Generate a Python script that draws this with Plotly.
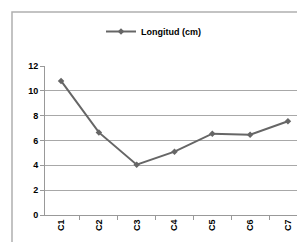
import plotly.graph_objects as go

categories = ["C1", "C2", "C3", "C4", "C5", "C6", "C7"]
longitud = [10.8, 6.65, 4.05, 5.1, 6.55, 6.47, 7.55]
y_ticks = [0, 2, 4, 6, 8, 10, 12]

W, H = 305, 242
ml, mr, mt, mb = 37, 9, 58, 35
pw, ph = W - ml - mr, H - mt - mb

def px(x):
    return (x - ml) / pw

def py(y):
    return (H - mb - y) / ph

fig = go.Figure()
fig.add_trace(go.Scatter(
    x=categories, y=longitud, mode="lines+markers", name="Longitud (cm)",
    line=dict(color="#666666", width=2),
    marker=dict(symbol="diamond", size=5, color="#666666"),
))

fig.add_shape(type="rect", xref="paper", yref="paper",
              x0=px(4), x1=px(315), y0=py(255), y1=py(4),
              line=dict(color="#b0b0b0", width=1.5), fillcolor="rgba(0,0,0,0)", layer="below")

fig.update_layout(
    width=W, height=H,
    margin=dict(l=ml, r=mr, t=mt, b=mb, pad=0),
    paper_bgcolor="white", plot_bgcolor="white",
    font=dict(family="Liberation Sans, Arial, sans-serif", size=9, color="#000000"),
    showlegend=True,
    legend=dict(orientation="h", x=px(93), y=py(23.5), xanchor="left", yanchor="middle",
                font=dict(size=9, family="Liberation Sans, Arial, sans-serif", weight="bold"),
                bgcolor="rgba(0,0,0,0)", itemwidth=30),
    xaxis=dict(type="category", showline=True, linecolor="#999999", linewidth=1,
               ticks="outside", tickson="boundaries", ticklen=4, tickcolor="#999999",
               tickangle=-90, showgrid=False,
               tickfont=dict(size=9, weight="bold")),
    yaxis=dict(range=[0, 12], tickvals=y_ticks, showline=True, linecolor="#999999", linewidth=1,
               ticks="outside", ticklen=4, tickcolor="#999999",
               showgrid=True, gridcolor="#a8a8a8", gridwidth=1, zeroline=False,
               tickfont=dict(size=9, weight="bold")),
)

fig.write_html("out.html")
